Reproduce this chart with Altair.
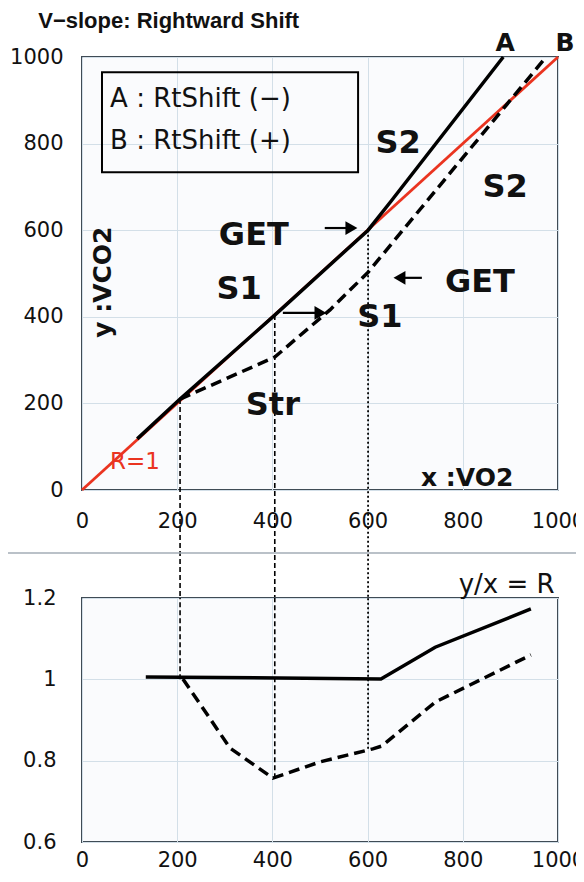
import altair as alt
import pandas as pd

# ---------------- top panel: V-slope (x: VO2, y: VCO2) ----------------
r1_x = [0, 1000]
r1_y = [0, 1000]
a_x = [116, 206, 405, 601, 650, 885]
a_y = [118, 210, 404, 600, 668, 1000]
b_x = [206, 405, 521, 601, 975]
b_y = [210, 307, 416, 503, 1000]

# ---------------- bottom panel: R = y/x ----------------
ra_x = [134, 628, 742, 943]
ra_r = [1.006, 1.001, 1.079, 1.173]
rb_x = [212, 311, 401, 500, 611, 630, 742, 943]
rb_r = [1.001, 0.831, 0.757, 0.797, 0.829, 0.836, 0.944, 1.06]

# connector lines between the panels
guide_x = [206, 405, 601]
guide_top = [210, 404, 600]
guide_bottom = [1.0, 0.757, 0.829]
guide_style = ["dash", "dash", "dot"]

top_ticks = [0, 200, 400, 600, 800, 1000]
bottom_y_ticks = [0.6, 0.8, 1.0, 1.2]

# annotations (data coordinates of the top panel)
big_text = ["GET", "S1", "GET", "S1", "S2", "S2", "Str"]
big_x = [361, 330, 836, 626, 664, 889, 401]
big_y = [589, 464, 480, 400, 801, 700, 196]

end_text = ["A", "B"]
end_x = [889, 1015]
end_y = [1032, 1032]

legend_lines = ["A : RtShift (\u2212)", "B : RtShift (+)"]
legend_x = [59, 59]
legend_y = [903, 806]
legend_box_x = [42, 580]
legend_box_y = [734, 965]

arrow_from = [510, 422, 714]
arrow_to = [580, 515, 653]
arrow_y = [605, 409, 490]

title_text = "V\u2212slope: Rightward Shift"

W, H1, H2 = 476, 433, 244
GAP = 108
LOW = -GAP * 1000 / H1  # data value at the top edge of the bottom panel

FONT = "DejaVu Sans"
INK = "#111111"
RED = "#ea3420"

xs = alt.Scale(domain=[0, 1000], nice=False, zero=False)
ys = alt.Scale(domain=[0, 1000], nice=False, zero=False)
ys2 = alt.Scale(domain=[0.6, 1.2], nice=False, zero=False)

common_axis = dict(title=None, ticks=False, domain=False, labelFont=FONT, labelFontSize=21,
                   labelColor=INK, gridColor="#d3dfe8", gridWidth=1, labelFlush=False,
                   labelOverlap=False)
x_axis_top = alt.Axis(values=top_ticks, format="d", labelPadding=20, **common_axis)
y_axis_top = alt.Axis(values=top_ticks, format="d", labelPadding=19, **common_axis)
x_axis_bot = alt.Axis(values=top_ticks, format="d", labelPadding=7, **common_axis)
y_axis_bot = alt.Axis(values=bottom_y_ticks, format="~g", labelPadding=26, **common_axis)


def X(f):
    return alt.X(f, type="quantitative", scale=xs, axis=x_axis_top)


def Y(f):
    return alt.Y(f, type="quantitative", scale=ys, axis=y_axis_top)


# ---------- top panel layers ----------
red_df = pd.DataFrame({"x": r1_x, "y": r1_y})
a_df = pd.DataFrame({"x": a_x, "y": a_y})
b_df = pd.DataFrame({"x": b_x, "y": b_y})

red_line = alt.Chart(red_df).mark_line(color=RED, strokeWidth=2.8).encode(x=X("x"), y=Y("y"))
a_line = alt.Chart(a_df).mark_line(color="black", strokeWidth=3.5).encode(x=X("x"), y=Y("y"))
b_line = alt.Chart(b_df).mark_line(color="black", strokeWidth=3.5, strokeDash=[11, 6]).encode(
    x=X("x"), y=Y("y"))

g_df = pd.DataFrame({"x": guide_x, "y": guide_top, "low": [LOW] * 3, "r": guide_bottom,
                     "s": guide_style})
guides_top_dash = alt.Chart(g_df[g_df.s == "dash"]).mark_rule(
    color="black", strokeWidth=1.6, strokeDash=[5, 3]).encode(x=X("x"), y=Y("y"), y2="low")
guides_top_dot = alt.Chart(g_df[g_df.s == "dot"]).mark_rule(
    color="black", strokeWidth=1.8, strokeDash=[2, 2.5]).encode(x=X("x"), y=Y("y"), y2="low")

box_df = pd.DataFrame({"x": [legend_box_x[0]], "x2": [legend_box_x[1]],
                       "y": [legend_box_y[0]], "y2": [legend_box_y[1]]})
legend_box = alt.Chart(box_df).mark_rect(fill=None, stroke="black", strokeWidth=2).encode(
    x=X("x"), x2="x2", y=Y("y"), y2="y2")

leg_df = pd.DataFrame({"t": legend_lines, "x": legend_x, "y": legend_y})
legend_text = alt.Chart(leg_df).mark_text(font=FONT, fontSize=26, align="left",
                                          baseline="middle", color=INK).encode(
    x=X("x"), y=Y("y"), text="t")

big_df = pd.DataFrame({"t": big_text, "x": big_x, "y": big_y})
big_labels = alt.Chart(big_df).mark_text(font=FONT, fontSize=32, fontWeight="bold",
                                         baseline="middle", color=INK).encode(
    x=X("x"), y=Y("y"), text="t")

end_df = pd.DataFrame({"t": end_text, "x": end_x, "y": end_y})
end_labels = alt.Chart(end_df).mark_text(font=FONT, fontSize=25, fontWeight="bold",
                                         baseline="middle", color=INK).encode(
    x=X("x"), y=Y("y"), text="t")

r1_label = alt.Chart(pd.DataFrame({"t": ["R=1"], "x": [111], "y": [65]})).mark_text(
    font=FONT, fontSize=23, color=RED, baseline="middle").encode(x=X("x"), y=Y("y"), text="t")

ytitle = alt.Chart(pd.DataFrame({"t": ["y :VCO2"], "x": [44], "y": [480]})).mark_text(
    font=FONT, fontSize=25, fontWeight="bold", angle=270, baseline="middle", color=INK).encode(
    x=X("x"), y=Y("y"), text="t")
xtitle = alt.Chart(pd.DataFrame({"t": ["x :VO2"], "x": [809], "y": [28]})).mark_text(
    font=FONT, fontSize=25, fontWeight="bold", baseline="middle", color=INK).encode(
    x=X("x"), y=Y("y"), text="t")
title = alt.Chart(pd.DataFrame({"t": [title_text], "x": [-92], "y": [1083]})).mark_text(
    font="Liberation Sans", fontSize=22, fontWeight="bold", align="left",
    baseline="middle", color=INK).encode(x=X("x"), y=Y("y"), text="t")

arr_df = pd.DataFrame({"x0": arrow_from, "x1": arrow_to, "y": arrow_y})
arr_df["dir"] = [1 if b > a else -1 for a, b in zip(arrow_from, arrow_to)]
arr_df["head"] = arr_df["x1"] - arr_df["dir"] * 14
arr_df["shape"] = ["triangle-right" if d > 0 else "triangle-left" for d in arr_df["dir"]]
arrow_shaft = alt.Chart(arr_df).mark_rule(color="black", strokeWidth=2.2).encode(
    x=X("x0"), x2="head", y=Y("y"))
arrow_head = alt.Chart(arr_df).mark_point(filled=True, color="black", opacity=1, size=190).encode(
    x=X("head"), y=Y("y"), shape=alt.Shape("shape:N", scale=None))

separator = alt.Chart(pd.DataFrame({"x": [0]})).mark_rule(color="#a3adb6", strokeWidth=1.5).encode(
    x=alt.value(-74), x2=alt.value(W + 18), y=alt.value(H1 + 63))

top = alt.layer(
    red_line, guides_top_dash, guides_top_dot, a_line, b_line, legend_box, legend_text,
    big_labels, end_labels, r1_label, ytitle, xtitle, title, arrow_shaft, arrow_head, separator
).properties(width=W, height=H1)

# ---------- bottom panel layers ----------


def XB(f):
    return alt.X(f, type="quantitative", scale=xs, axis=x_axis_bot)


def YB(f):
    return alt.Y(f, type="quantitative", scale=ys2, axis=y_axis_bot)


ra_df = pd.DataFrame({"x": ra_x, "r": ra_r})
rb_df = pd.DataFrame({"x": rb_x, "r": rb_r})
ra_line = alt.Chart(ra_df).mark_line(color="black", strokeWidth=3.5).encode(x=XB("x"), y=YB("r"))
rb_line = alt.Chart(rb_df).mark_line(color="black", strokeWidth=3.5, strokeDash=[11, 6]).encode(
    x=XB("x"), y=YB("r"))
g_df["top"] = 1.2
guides_bot_dash = alt.Chart(g_df[g_df.s == "dash"]).mark_rule(
    color="black", strokeWidth=1.6, strokeDash=[5, 3]).encode(x=XB("x"), y=YB("r"), y2="top")
guides_bot_dot = alt.Chart(g_df[g_df.s == "dot"]).mark_rule(
    color="black", strokeWidth=1.8, strokeDash=[2, 2.5]).encode(x=XB("x"), y=YB("r"), y2="top")
r_label = alt.Chart(pd.DataFrame({"t": ["y/x = R"], "x": [892], "r": [1.232]})).mark_text(
    font=FONT, fontSize=26, baseline="middle", color=INK).encode(x=XB("x"), y=YB("r"), text="t")

bottom = alt.layer(guides_bot_dash, guides_bot_dot, ra_line, rb_line, r_label).properties(
    width=W, height=H2)

# fixed page geometry: plot origin at (82, 57) in the page; canvas 568 x 866
# (with autosize "none" the concat view reports width W and height 0)
chart = alt.vconcat(top, bottom, spacing=GAP, bounds="flush").properties(
    autosize=alt.AutoSizeParams(type="none"),
    padding={"left": 74, "top": 49, "right": 18, "bottom": 817},
    background="white",
).configure_view(stroke="#3f4b55", strokeWidth=2, fill="#fafbfd")

chart.save("out.html", embed_options={"renderer": "svg", "actions": False})
